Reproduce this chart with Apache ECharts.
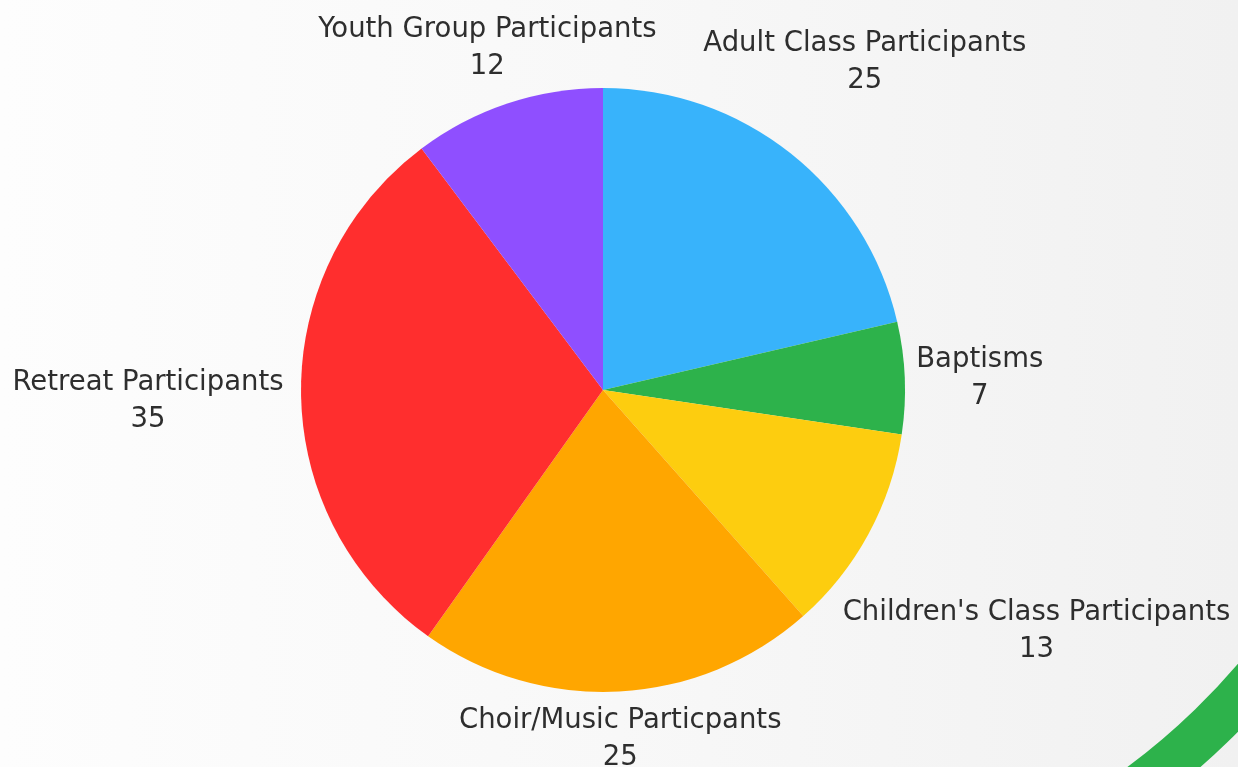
<!DOCTYPE html>
<html>
<head>
<meta charset="utf-8">
<script src="https://cdn.jsdelivr.net/npm/echarts@6/dist/echarts.min.js"></script>
<style>
  html, body { margin: 0; padding: 0; }
  #chart_main { width: 1238px; height: 767px; }
</style>
</head>
<body>
<div id="chart_main"></div>
<script>
// ============ data ===============
const categories = [
  'Adult Class Participants',
  'Baptisms',
  "Children's Class Participants",
  'Choir/Music Particpants',
  'Retreat Participants',
  'Youth Group Participants'
];
const values = [25, 7, 13, 25, 35, 12];
const colors = ['#38B3FB', '#2DB24B', '#FDCD0F', '#FFA600', '#FF2E2E', '#8F4FFF'];

// label shift from the slice edge (px), hand placed like the original
const labelShift = [[74, -91], [75, 1], [168, 97], [1, 48], [-153, 7], [-20, -55]];

const CX = 603, CY = 390, R = 302;

const total = values.reduce((a, b) => a + b, 0);
const midAngles = [];
let acc = 0;
values.forEach(v => {
  midAngles.push(90 - (acc + v / 2) / total * 360);
  acc += v;
});

const myChart = echarts.init(document.getElementById('chart_main'));

const option = {
  backgroundColor: {
    type: 'linear', x: 0, y: 0, x2: 1, y2: 0,
    colorStops: [
      { offset: 0, color: '#fdfdfd' },
      { offset: 0.5, color: '#f8f8f8' },
      { offset: 1, color: '#f1f1f1' }
    ]
  },
  animation: false,
  graphic: [
    {
      type: 'arc',
      silent: true,
      z: -1,
      shape: { cx: 725, cy: 225, r: 698, startAngle: 0.5, endAngle: 1.1 },
      style: { stroke: '#2DB24B', lineWidth: 46, fill: null }
    }
  ],
  series: [{
    type: 'pie',
    center: [CX, CY],
    radius: R,
    startAngle: 90,
    clockwise: true,
    avoidLabelOverlap: false,
    data: categories.map((name, i) => ({
      name,
      value: values[i],
      itemStyle: { color: colors[i] }
    })),
    label: {
      show: true,
      position: 'outside',
      formatter: '{b}\n{c}',
      color: '#2e2e2e',
      fontFamily: 'DejaVu Sans',
      fontSize: 27.5,
      lineHeight: 37,
      align: 'center'
    },
    labelLine: { show: false },
    labelLayout: function (params) {
      const i = params.dataIndex;
      const a = midAngles[i] * Math.PI / 180;
      return {
        x: CX + R * Math.cos(a) + labelShift[i][0],
        y: CY - R * Math.sin(a) + labelShift[i][1],
        align: 'center',
        verticalAlign: 'middle',
        hideOverlap: false
      };
    },
    emphasis: { disabled: true }
  }]
};
myChart.setOption(option);
</script>
</body>
</html>
